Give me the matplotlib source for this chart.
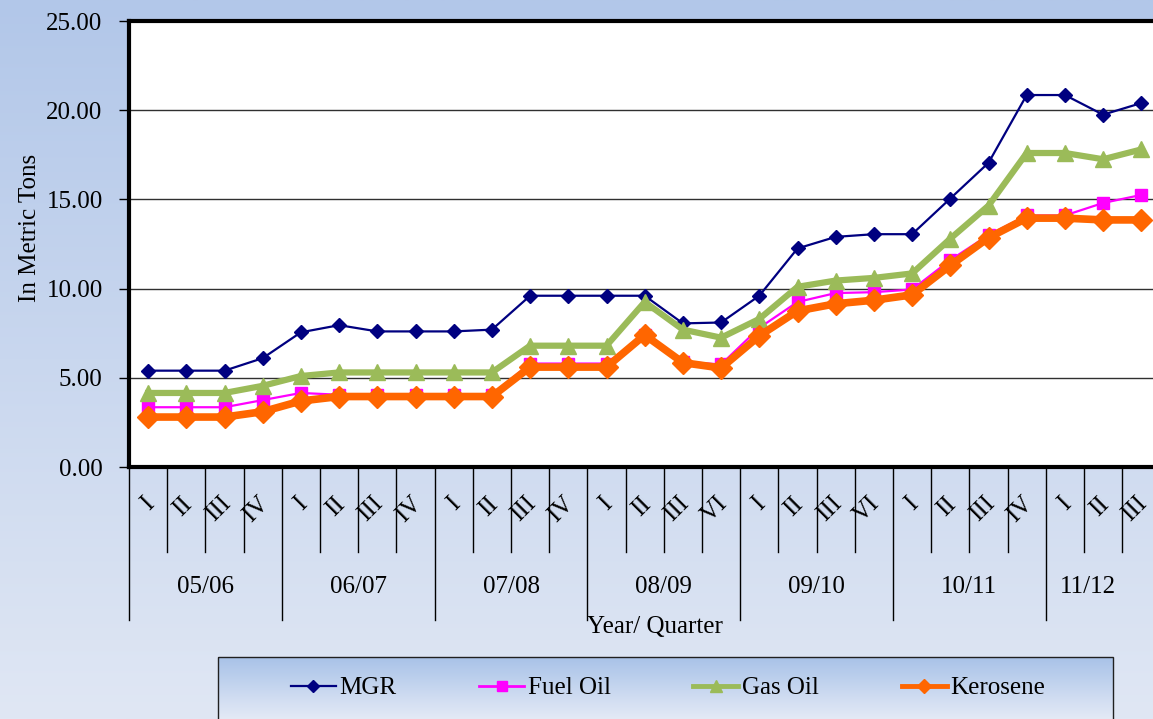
import matplotlib.pyplot as plt
import numpy as np
from matplotlib.patches import Rectangle
from matplotlib.lines import Line2D

plt.rcParams['font.family'] = ['Liberation Serif', 'DejaVu Serif']

# data
years = ["05/06", "06/07", "07/08", "08/09", "09/10", "10/11", "11/12"]
quarters = [["I", "II", "III", "IV"], ["I", "II", "III", "IV"],
            ["I", "II", "III", "IV"], ["I", "II", "III", "VI"],
            ["I", "II", "III", "VI"], ["I", "II", "III", "IV"],
            ["I", "II", "III"]]

mgr = [5.4, 5.4, 5.4, 6.1, 7.55, 7.95, 7.6, 7.6, 7.6, 7.7, 9.6, 9.6, 9.6, 9.6,
       8.05, 8.1, 9.6, 12.25, 12.9, 13.05, 13.05, 15.05, 17.05, 20.85, 20.85,
       19.75, 20.4]
fuel_oil = [3.35, 3.35, 3.35, 3.75, 4.15, 4.05, 4.05, 4.05, 4.05, 4.05, 5.8,
            5.8, 5.8, 7.4, 5.9, 5.75, 7.8, 9.25, 9.75, 9.8, 9.95, 11.6, 13.0,
            14.1, 14.1, 14.8, 15.25]
gas_oil = [4.15, 4.15, 4.15, 4.55, 5.1, 5.3, 5.3, 5.3, 5.3, 5.3, 6.8, 6.8, 6.8,
           9.25, 7.7, 7.25, 8.3, 10.1, 10.45, 10.6, 10.85, 12.8, 14.65, 17.6,
           17.6, 17.25, 17.8]
kerosene = [2.8, 2.8, 2.8, 3.1, 3.7, 3.95, 3.95, 3.95, 3.95, 3.95, 5.6, 5.6,
            5.6, 7.4, 5.85, 5.55, 7.35, 8.75, 9.15, 9.35, 9.65, 11.3, 12.85,
            13.95, 13.95, 13.85, 13.85]

W, H = 1153, 719
FS = 18
fig = plt.figure(figsize=(W / 100, H / 100), dpi=100)

# background gradient + legend box
bg = fig.add_axes([0, 0, 1, 1], zorder=-10)
top = np.array([178, 199, 233]) / 255
bot = np.array([224, 231, 244]) / 255
t = np.linspace(0, 1, 256)[:, None, None]
grad = top * (1 - t) + bot * t
bg.imshow(grad, extent=[0, W, H, 0], aspect='auto')
ltop = np.array([168, 194, 232]) / 255
lbot = np.array([228, 234, 246]) / 255
lgrad = ltop * (1 - t) + lbot * t
bg.imshow(lgrad, extent=[218, 1113, H, 657], aspect='auto')
bg.add_patch(Rectangle((218, 657), 895, 70, fill=False, ec='#202020', lw=1))
bg.set_xlim(0, W)
bg.set_ylim(H, 0)
bg.axis('off')

n = len(mgr)
cat_w = 38.2
ax = fig.add_axes([129 / W, 252 / H, n * cat_w / W, 446 / H])
x = np.arange(n)

ax.plot(x, mgr, color='#000080', lw=1.6, marker='D', ms=7.5, label='MGR')
ax.plot(x, fuel_oil, color='#FF00FF', lw=1.6, marker='s', ms=9, label='Fuel Oil')
ax.plot(x, gas_oil, color='#9BBB59', lw=4.5, marker='^', ms=12, label='Gas Oil')
ax.plot(x, kerosene, color='#FF6600', lw=5.5, marker='D', ms=11, label='Kerosene')

ax.set_xlim(-0.5, n - 0.5)
ax.set_ylim(0, 25)
ax.set_yticks(np.arange(0, 26, 5))
ax.set_yticklabels(["%.2f" % v for v in np.arange(0, 26, 5)], fontsize=FS)
ax.tick_params(axis='y', length=7, width=1, pad=12)
ax.set_xticks([])
for v in [5, 10, 15, 20]:
    ax.axhline(v, color='#303030', lw=1, zorder=0)
for s in ['left', 'top', 'bottom']:
    ax.spines[s].set_linewidth(3)
ax.spines['right'].set_visible(False)

# multi level category axis
trans = ax.get_xaxis_transform()
pos = 0
for yr, qs in zip(years, quarters):
    ax.plot([pos - 0.5, pos - 0.5], [0, -0.343], color='black', lw=1,
            transform=trans, clip_on=False)
    for i, q in enumerate(qs):
        if i > 0:
            ax.plot([pos + i - 0.5, pos + i - 0.5], [0, -0.19], color='black',
                    lw=1, transform=trans, clip_on=False)
        ax.text(pos + i + 0.07, -0.075, q, rotation=45, ha='right', va='center',
                rotation_mode='anchor', fontsize=FS, transform=trans)
    if len(qs) == 4:
        xc = pos + 1.5
    else:
        xc = pos + 0.6  # last group is cut off by the right edge
    ax.text(xc, -0.269, yr, ha='center', va='center', fontsize=FS,
            transform=trans)
    pos += len(qs)

ax.text(13.27, -0.359, "Year/ Quarter", ha='center', va='center', fontsize=FS,
        transform=trans)
fig.text(30 / W, 1 - 228 / H, "In Metric Tons", rotation=90, ha='center',
         va='center', fontsize=FS)

handles = [
    Line2D([], [], color='#000080', lw=1.6, marker='D', ms=6),
    Line2D([], [], color='#FF00FF', lw=2, marker='s', ms=7),
    Line2D([], [], color='#9BBB59', lw=3.5, marker='^', ms=8),
    Line2D([], [], color='#FF6600', lw=3.5, marker='D', ms=7),
]
fig.legend(handles, ['MGR', 'Fuel Oil', 'Gas Oil', 'Kerosene'], ncol=4,
           loc='center', bbox_to_anchor=(668 / W, 31 / H), frameon=False,
           fontsize=FS, handlelength=1.8, handletextpad=0.15, columnspacing=3.3)

fig.savefig("out.png", dpi=100)
